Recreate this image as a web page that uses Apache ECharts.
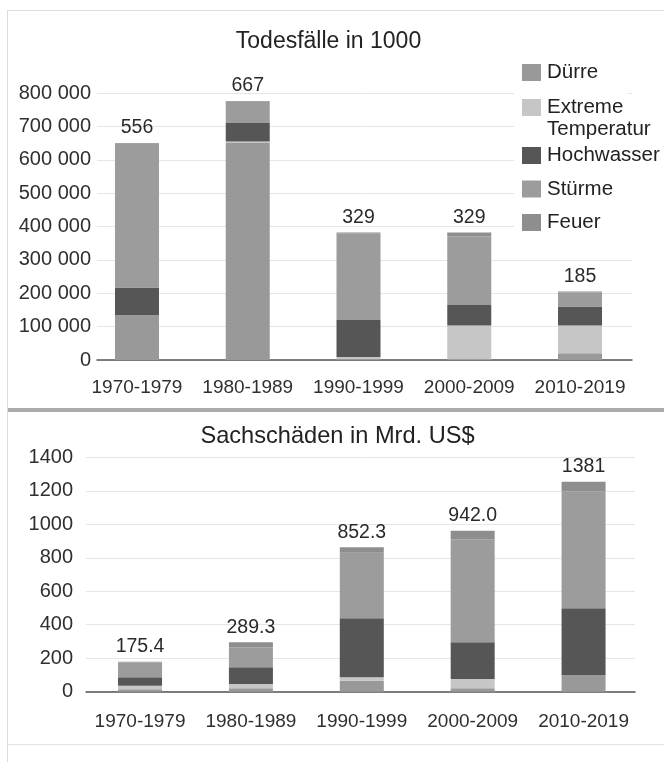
<!DOCTYPE html>
<html>
<head>
<meta charset="utf-8">
<script src="https://cdn.jsdelivr.net/npm/echarts@6/dist/echarts.min.js"></script>
<style>
  html, body { margin: 0; padding: 0; background: #fff; }
  #chart { width: 664px; height: 762px; }
</style>
</head>
<body>
<div id="chart"></div>
<script>
const categories = ['1970-1979', '1980-1989', '1990-1999', '2000-2009', '2010-2019'];
const seriesNames = ['Dürre', 'Extreme Temperatur', 'Hochwasser', 'Stürme', 'Feuer'];

// Todesfälle (Anzahl)
const deathsDuerre      = [134000, 650000,   3000,   2000,  20000];
const deathsExtremeTemp = [     0,   5000,   6000, 101000,  83000];
const deathsHochwasser  = [ 83000,  55000, 111000,  62000,  57000];
const deathsStuerme     = [431000,  64000, 260000, 205000,  42000];
const deathsFeuer       = [  2000,   2000,   2000,  12000,   3000];
const deathsLabels      = ['556', '667', '329', '329', '185'];

// Sachschäden (Mrd. US$)
const damageDuerre      = [ 14,  20,  66,  20, 100];
const damageExtremeTemp = [ 22,  26,  20,  56,   0];
const damageHochwasser  = [ 50, 100, 352, 219, 398];
const damageStuerme     = [ 88, 119, 392, 615, 697];
const damageFeuer       = [  5,  30,  33,  52,  59];
const damageLabels      = ['175.4', '289.3', '852.3', '942.0', '1381'];

const colors = ['#999999', '#c6c6c6', '#565656', '#9c9c9c', '#8e8e8e'];
const FONT = "'Liberation Sans', Arial, sans-serif";

const deathsData = [deathsDuerre, deathsExtremeTemp, deathsHochwasser, deathsStuerme, deathsFeuer];
const damageData = [damageDuerre, damageExtremeTemp, damageHochwasser, damageStuerme, damageFeuer];

function makeSeries(dataSets, axisIdx, stackName, labels) {
  return dataSets.map((d, i) => ({
    name: seriesNames[i],
    type: 'bar',
    stack: stackName,
    xAxisIndex: axisIdx,
    yAxisIndex: axisIdx,
    barWidth: 44,
    itemStyle: { color: colors[i] },
    data: d,
    label: i === dataSets.length - 1 ? {
      show: true,
      position: 'top',
      distance: 5,
      color: '#2a2a2a',
      fontSize: 19.5,
      fontFamily: FONT,
      formatter: p => labels[p.dataIndex]
    } : { show: false }
  }));
}

const xLabelStyle = { color: '#2f2f2f', fontSize: 19, fontFamily: FONT };
const yLabelStyle = { color: '#2f2f2f', fontSize: 20, fontFamily: FONT };
const TOP = { top: 93, bottom: 402 };
const BOT = { top: 457.3, bottom: 70.3 };

function decorX(gridIndex) {
  return { type: 'value', gridIndex, min: 0, max: 1, position: 'bottom',
    axisLabel: { show: false }, axisTick: { show: false }, splitLine: { show: false },
    axisLine: { show: true, onZero: false, lineStyle: { color: '#555', width: 1.5 } } };
}
function barsX(gridIndex, margin) {
  return { type: 'category', gridIndex, data: categories,
    axisTick: { show: false }, axisLine: { show: false },
    axisLabel: Object.assign({ margin, interval: 0 }, xLabelStyle) };
}

const chart = echarts.init(document.getElementById('chart'));
chart.setOption({
  backgroundColor: '#fff',
  animation: false,
  legend: [
    {
      data: ['Dürre', 'Extreme Temperatur'],
      orient: 'vertical', left: 514, top: 54,
      padding: [8, 4, 19, 8],
      backgroundColor: '#fff',
      itemWidth: 19, itemHeight: 17, itemGap: 14,
      icon: 'rect',
      formatter: n => n === 'Extreme Temperatur' ? 'Extreme' : n,
      textStyle: { color: '#222', fontSize: 20.5, fontFamily: FONT, padding: [0, 0, 0, 1] }
    },
    {
      data: ['Hochwasser', 'Stürme', 'Feuer'],
      orient: 'vertical', left: 514, top: 137,
      padding: [8, 0, 20, 8],
      backgroundColor: '#fff',
      itemWidth: 19, itemHeight: 17, itemGap: 12.5,
      icon: 'rect',
      textStyle: { color: '#222', fontSize: 20.5, fontFamily: FONT, padding: [0, 0, 0, 1] }
    }
  ],
  graphic: [
    { type: 'text', z: 100, x: 328.5, y: 30,
      style: { text: 'Todesfälle in 1000', fill: '#222', fontSize: 23, fontFamily: FONT, align: 'center' } },
    { type: 'text', z: 100, x: 337.5, y: 424,
      style: { text: 'Sachschäden in Mrd. US$', fill: '#222', fontSize: 23.6, fontFamily: FONT, align: 'center' } },
    { type: 'text', z: 100, x: 547, y: 119,
      style: { text: 'Temperatur', fill: '#222', fontSize: 20.5, fontFamily: FONT } },
    { type: 'line', z: 100, shape: { x1: 7, y1: 10.5, x2: 664, y2: 10.5 }, style: { stroke: '#dcdcdc', lineWidth: 1 } },
    { type: 'line', z: 100, shape: { x1: 7.5, y1: 10, x2: 7.5, y2: 762 }, style: { stroke: '#dcdcdc', lineWidth: 1 } },
    { type: 'rect', z: 100, shape: { x: 8, y: 408, width: 656, height: 4 }, style: { fill: '#ababab' } },
    { type: 'line', z: 100, shape: { x1: 8, y1: 744.5, x2: 664, y2: 744.5 }, style: { stroke: '#e3e3e3', lineWidth: 1 } }
  ],
  grid: [
    Object.assign({ left: 97, right: 32 }, TOP),
    Object.assign({ left: 81.6, right: 28.6 }, TOP),
    Object.assign({ left: 86, right: 29 }, BOT),
    Object.assign({ left: 84.6, right: 25 }, BOT)
  ],
  xAxis: [decorX(0), barsX(1, 18), decorX(2), barsX(3, 21)],
  yAxis: [
    { type: 'value', gridIndex: 0, min: 0, max: 800000, interval: 100000,
      axisLine: { show: false }, axisTick: { show: false },
      splitLine: { lineStyle: { color: '#e6e6e6' } },
      axisLabel: Object.assign({ margin: 6,
        formatter: v => v === 0 ? '0' : (v / 1000) + ' 000' }, yLabelStyle) },
    { type: 'value', gridIndex: 1, min: 0, max: 800000, show: false },
    { type: 'value', gridIndex: 2, min: 0, max: 1400, interval: 200,
      axisLine: { show: false }, axisTick: { show: false },
      splitLine: { lineStyle: { color: '#e6e6e6' } },
      axisLabel: Object.assign({ margin: 13, formatter: v => String(v) }, yLabelStyle) },
    { type: 'value', gridIndex: 3, min: 0, max: 1400, show: false }
  ],
  series: makeSeries(deathsData, 1, 'deaths', deathsLabels)
    .concat(makeSeries(damageData, 3, 'damage', damageLabels))
});
</script>
</body>
</html>
